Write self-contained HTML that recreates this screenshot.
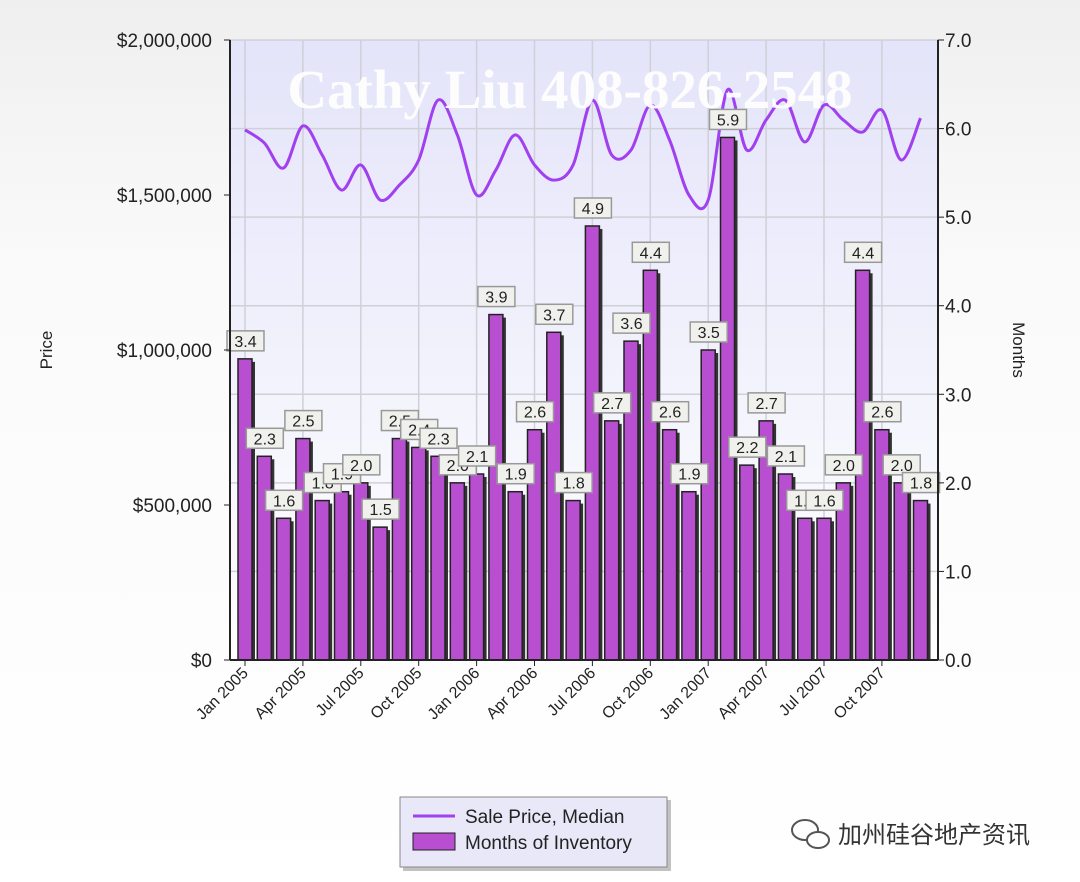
<!DOCTYPE html>
<html><head><meta charset="utf-8"><style>
body{margin:0;width:1080px;height:882px;overflow:hidden;background:linear-gradient(#efefef,#fafafa 30%,#ffffff);font-family:"Liberation Sans","Noto Sans CJK SC",sans-serif;}
</style></head><body>
<svg id="chart" width="1080" height="882" xmlns="http://www.w3.org/2000/svg" style="position:absolute;left:0;top:0">
<defs>
<linearGradient id="pg" x1="0" y1="0" x2="0" y2="1"><stop offset="0" stop-color="#e4e4fa"/><stop offset="1" stop-color="#ffffff"/></linearGradient>
</defs>
<rect x="230" y="40" width="708" height="620" fill="url(#pg)"/>
<g id="grid"></g>
<g id="bars"></g>
<path id="line" fill="none" stroke="#a040f0" stroke-width="3"/>
<g id="labels"></g>
<line x1="230" y1="40" x2="230" y2="660" stroke="#222" stroke-width="2"/>
<line x1="938" y1="40" x2="938" y2="660" stroke="#222" stroke-width="2"/>
<line x1="230" y1="660" x2="938" y2="660" stroke="#222" stroke-width="2"/>
<g id="axes" font-size="19" fill="#222"></g>
<text transform="translate(52,350) rotate(-90)" text-anchor="middle" font-size="17" fill="#222">Price</text>
<text transform="translate(1013,350) rotate(90)" text-anchor="middle" font-size="17" fill="#222">Months</text>
<text x="570" y="108" text-anchor="middle" font-family="Liberation Serif,serif" font-weight="bold" font-size="55" fill="#fff" opacity="0.95">Cathy Liu 408-826-2548</text>
<g>
<rect x="403" y="800" width="268" height="71" fill="#999" opacity="0.6"/>
<rect x="400" y="797" width="267" height="70" fill="#e8e8f8" stroke="#888"/>
<line x1="413" y1="816" x2="455" y2="816" stroke="#a040f0" stroke-width="3"/>
<text x="465" y="823" font-size="19" fill="#222">Sale Price, Median</text>
<rect x="413" y="833" width="42" height="17" fill="#b84fd0" stroke="#222"/>
<text x="465" y="849" font-size="19" fill="#222">Months of Inventory</text>
</g>
<g fill="#444">
<ellipse cx="805" cy="830" rx="13" ry="10" fill="none" stroke="#555" stroke-width="2"/>
<ellipse cx="818" cy="840" rx="11" ry="8" fill="#fff" stroke="#555" stroke-width="2"/>
<text x="838" y="843" font-size="24" fill="#333">加州硅谷地产资讯</text>
</g>
</svg>
<script>
const categories=["Jan 2005","Feb 2005","Mar 2005","Apr 2005","May 2005","Jun 2005","Jul 2005","Aug 2005","Sep 2005","Oct 2005","Nov 2005","Dec 2005","Jan 2006","Feb 2006","Mar 2006","Apr 2006","May 2006","Jun 2006","Jul 2006","Aug 2006","Sep 2006","Oct 2006","Nov 2006","Dec 2006","Jan 2007","Feb 2007","Mar 2007","Apr 2007","May 2007","Jun 2007","Jul 2007","Aug 2007","Sep 2007","Oct 2007","Nov 2007","Dec 2007"];
const monthsInventory=[3.4,2.3,1.6,2.5,1.8,1.9,2.0,1.5,2.5,2.4,2.3,2.0,2.1,3.9,1.9,2.6,3.7,1.8,4.9,2.7,3.6,4.4,2.6,1.9,3.5,5.9,2.2,2.7,2.1,1.6,1.6,2.0,4.4,2.6,2.0,1.8];
const salePrice=[1710000,1668000,1587000,1723000,1629000,1516000,1597000,1484000,1532000,1613000,1806000,1694000,1500000,1581000,1694000,1597000,1548000,1597000,1806000,1629000,1645000,1790000,1677000,1500000,1484000,1839000,1645000,1742000,1806000,1671000,1790000,1742000,1703000,1774000,1613000,1748000];
const priceTicks=[0,500000,1000000,1500000,2000000];
const priceTickLabels=["$0","$500,000","$1,000,000","$1,500,000","$2,000,000"];
const monthTicks=[0,1,2,3,4,5,6,7];
const monthTickLabels=["0.0","1.0","2.0","3.0","4.0","5.0","6.0","7.0"];
const NS="http://www.w3.org/2000/svg";
const yTop=40,yBot=660;
const xs=i=>245+i*19.3;
const yP=v=>yBot-(v/2000000)*(yBot-yTop);
const yM=v=>yBot-(v/7)*(yBot-yTop);
function mk(t,a,p){const e=document.createElementNS(NS,t);for(const k in a)e.setAttribute(k,a[k]);p.appendChild(e);return e;}
const grid=document.getElementById('grid'),bars=document.getElementById('bars'),labels=document.getElementById('labels'),axes=document.getElementById('axes');
monthTicks.forEach((m,i)=>{
 const l=mk('line',{x1:230,x2:938,y1:yM(m),y2:yM(m),stroke:'#d0d0d8','stroke-width':1.5},grid);
 
 
 const t=mk('text',{x:945,y:yM(m)+7,'font-size':19},axes);t.textContent=monthTickLabels[i];
 
 
 mk('line',{x1:938,x2:944,y1:yM(m),y2:yM(m),stroke:'#222'},axes);
});
priceTicks.forEach((p,i)=>{
 const t=mk('text',{x:212,y:yP(p)+7,'text-anchor':'end','font-size':19},axes);t.textContent=priceTickLabels[i];
 
 
 mk('line',{x1:224,x2:230,y1:yP(p),y2:yP(p),stroke:'#222'},axes);
});
categories.forEach((c,i)=>{
 const x=xs(i);
 if(i%3===0){
  const g=mk('line',{x1:x,x2:x,y1:yTop,y2:yBot,stroke:'#d0d0d8','stroke-width':1.5},grid);
  
  
  mk('line',{x1:x,x2:x,y1:yBot,y2:yBot+6,stroke:'#222'},axes);
  const t=mk('text',{transform:`translate(${x+4},${yBot+14}) rotate(-45)`,'text-anchor':'end','font-size':16},axes);
  t.textContent=c;
  
  
 }
 const v=monthsInventory[i],yt=yM(v);
 mk('rect',{x:x-4,y:yt+3,width:14,height:yBot-yt-3,fill:'#333'},bars);
 const b=mk('rect',{x:x-7,y:yt,width:14,height:yBot-yt,fill:'#b84fd0',stroke:'#222','stroke-width':1.5},bars);
 
 
 const lg=mk('g',{},labels);
 
 
 mk('rect',{x:x-18,y:yt-28,width:37,height:20,fill:'#f0f0ec',stroke:'#999','stroke-width':1.5},lg);
 const t=mk('text',{x:x+0.5,y:yt-12,'text-anchor':'middle','font-size':16,fill:'#222'},lg);t.textContent=v.toFixed(1);
});
const pts=salePrice.map((p,i)=>[xs(i),yP(p)]);
let d=`M${pts[0][0]},${pts[0][1]}`;
for(let i=0;i<pts.length-1;i++){
 const p0=pts[Math.max(0,i-1)],p1=pts[i],p2=pts[i+1],p3=pts[Math.min(pts.length-1,i+2)];
 d+=` C${p1[0]+(p2[0]-p0[0])/6},${p1[1]+(p2[1]-p0[1])/6} ${p2[0]-(p3[0]-p1[0])/6},${p2[1]-(p3[1]-p1[1])/6} ${p2[0]},${p2[1]}`;
}
document.getElementById('line').setAttribute('d',d);
</script>
</body></html>
